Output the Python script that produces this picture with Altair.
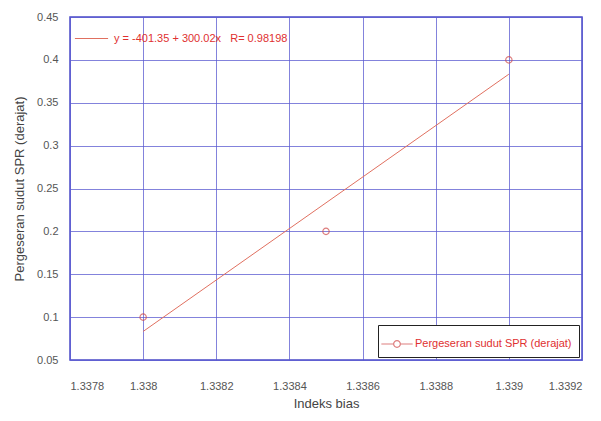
import altair as alt
import pandas as pd

# data
x_pts = [1.338, 1.3385, 1.339]
y_pts = [0.1, 0.2, 0.4]
x_fit = [1.338, 1.339]
y_fit = [0.0833, 0.3833]
x_ticks = [1.3378, 1.338, 1.3382, 1.3384, 1.3386, 1.3388, 1.339, 1.3392]
y_ticks = [0.05, 0.1, 0.15, 0.2, 0.25, 0.3, 0.35, 0.4, 0.45]
fit_label = "y = -401.35 + 300.02x\u00a0\u00a0\u00a0R= 0.98198"
pts_label = "Pergeseran sudut SPR (derajat)"

pts = pd.DataFrame({"x": x_pts, "y": y_pts, "s": pts_label})
fit = pd.DataFrame({"x": x_fit, "y": y_fit, "s": fit_label})

xs = alt.Scale(domain=[1.3378, 1.3392], nice=False, zero=False)
ys = alt.Scale(domain=[0.05, 0.45], nice=False, zero=False)

grid_col = "#5a5ad0"

xax = alt.Axis(values=x_ticks, format="~g", title="Indeks bias", labelPadding=20,
               titlePadding=6, ticks=False, domain=False, grid=True,
               gridColor=grid_col, gridOpacity=0.75, labelColor="#555555",
               labelFontSize=11, titleFontSize=13, titleFontWeight="normal",
               titleColor="#444444", labelFont="Liberation Sans", titleFont="Liberation Sans")
yax = alt.Axis(values=y_ticks, format="~g", title="Pergeseran sudut SPR (derajat)",
               labelPadding=12, titlePadding=10, ticks=False, domain=False, grid=True,
               gridColor=grid_col, gridOpacity=0.75, labelColor="#555555",
               labelFontSize=11, titleFontSize=13, titleFontWeight="normal",
               titleColor="#444444", labelFont="Liberation Sans", titleFont="Liberation Sans")

line_symbol = "M -1 0 L 1 0"
lm_symbol = ("M -1.4 0 L -0.3 0 M 0.3 0 L 1.4 0 "
             "M -0.3 0 A 0.3 0.3 0 1 1 0.3 0 A 0.3 0.3 0 1 1 -0.3 0")

fit_line = alt.Chart(fit).mark_line(strokeWidth=1).encode(
    x=alt.X("x:Q", scale=xs, axis=xax),
    y=alt.Y("y:Q", scale=ys, axis=yax),
    color=alt.Color("s:N", scale=alt.Scale(domain=[fit_label], range=["#e07060"]),
                    legend=alt.Legend(title=None, orient="top-left", offset=2,
                                      symbolType=line_symbol, symbolSize=1100,
                                      symbolStrokeWidth=1.2, labelColor="#e03030",
                                      labelFontSize=11, labelFont="Liberation Sans",
                                      labelLimit=400, labelOffset=5, padding=2)),
)

points = alt.Chart(pts).mark_point(shape="circle", filled=False, size=40,
                                   strokeWidth=1.2, color="#a02828").encode(
    x=alt.X("x:Q", scale=xs),
    y=alt.Y("y:Q", scale=ys),
    stroke=alt.Stroke("s:N", scale=alt.Scale(domain=[pts_label], range=["#d04848"]),
                      legend=alt.Legend(title=None, orient="bottom-right", offset=3,
                                        symbolType=lm_symbol, symbolSize=500,
                                        symbolStrokeWidth=1.2, symbolFillColor="transparent",
                                        labelColor="#e03030", labelFontSize=11,
                                        labelFont="Liberation Sans", labelLimit=400,
                                        labelOffset=6,
                                        strokeColor="#222222", padding=7,
                                        fillColor="white")),
)

chart = alt.layer(fit_line, points).resolve_scale(color="independent", stroke="independent").properties(
    width=512, height=343, autosize="none",
    padding={"left": 70, "top": 17, "right": 19, "bottom": 61},
    background="white",
).configure_view(stroke="#4a4ac8", strokeWidth=1.5)

chart.save("out.html", embed_options={"renderer": "svg", "actions": False})
